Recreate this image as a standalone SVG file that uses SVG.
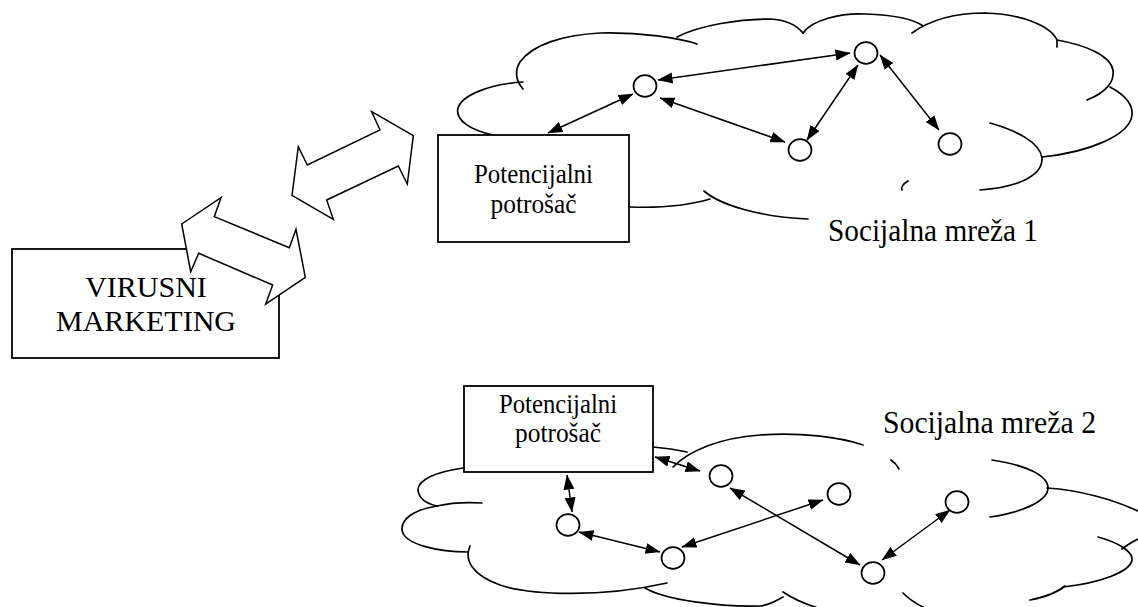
<svg xmlns="http://www.w3.org/2000/svg" width="1138" height="607" viewBox="0 0 1138 607">
  <style>
    .box { fill: #fff; stroke: #000; stroke-width: 1.8; }
    .cloud { fill: none; stroke: #000; stroke-width: 1.7; stroke-linecap: round; }
    .node { fill: #fff; stroke: #000; stroke-width: 1.7; }
    .link { fill: none; stroke: #000; stroke-width: 1.5; marker-start: url(#head); marker-end: url(#head); }
    .block { fill: #fff; stroke: #000; stroke-width: 1.5; stroke-linejoin: miter; }
    .t { font-family: "Liberation Serif", "Times New Roman", "DejaVu Serif", serif; fill: #000; text-anchor: middle; }
  </style>
  <defs>
    <marker id="head" markerUnits="userSpaceOnUse" markerWidth="16" markerHeight="12" refX="14.5" refY="5.5" orient="auto-start-reverse">
      <path d="M0,0 L15,5.5 L0,11 z" fill="#000"/>
    </marker>
  </defs>

  <rect width="1138" height="607" fill="#fff"/>

  <!-- cloud 1 outline (upper social network) -->
  <g id="cloud1">
    <path class="cloud" d="M493,135 C470,130 455,120 458,108 C462,95 490,84 523,82"/>
    <path class="cloud" d="M523,89 C515,80 515,70 520,62 C532,45 562,35 600,33 C640,32 680,38 697,44"/>
    <path class="cloud" d="M677,37 C700,25 740,19 770,19 C790,20 798,27 803,33"/>
    <path class="cloud" d="M803,33 C812,20 840,13 865,14 C895,15 915,20 923,26"/>
    <path class="cloud" d="M912,33 C930,20 955,13 985,13 C1020,14 1050,25 1057,40 L1057,47"/>
    <path class="cloud" d="M1057,40 C1085,45 1110,55 1113,70 C1115,82 1105,93 1087,100"/>
    <path class="cloud" d="M1110,87 C1125,95 1133,105 1132,115 C1130,135 1090,152 1042,157"/>
    <path class="cloud" d="M990,123 C1015,130 1040,142 1042,158 C1043,175 1020,187 980,190"/>
    <path class="cloud" d="M908,181 C903,184 901,187 902,190"/>
    <path class="cloud" d="M630,207 C660,208 690,205 710,199"/>
    <path class="cloud" d="M704,191 C720,205 760,217 808,219"/>
  </g>

  <!-- cloud 2 outline (lower social network) -->
  <g id="cloud2">
    <path class="cloud" d="M463,468 C435,472 418,480 418,490 C419,500 428,504 437,506"/>
    <path class="cloud" d="M437,506 C450,503 466,502 482,503"/>
    <path class="cloud" d="M437,506 C412,510 401,520 402,530 C404,545 440,552 468,552"/>
    <path class="cloud" d="M470,546 C464,560 472,575 500,585 C530,595 600,598 667,583"/>
    <path class="cloud" d="M645,588 C665,600 720,607 760,606 C770,605 778,600 783,597"/>
    <path class="cloud" d="M783,592 C795,600 810,606 825,610"/>
    <path class="cloud" d="M903,593 C910,600 918,605 927,609"/>
    <path class="cloud" d="M1030,600 C1045,597 1058,592 1065,586"/>
    <path class="cloud" d="M1098,537 C1120,543 1133,552 1132,560 C1130,572 1100,583 1063,587"/>
    <path class="cloud" d="M1122,549 C1127,545 1132,542 1140,538"/>
    <path class="cloud" d="M1047,488 C1080,490 1115,500 1140,512"/>
    <path class="cloud" d="M992,460 C1025,465 1048,475 1048,488 C1048,500 1025,512 990,517"/>
    <path class="cloud" d="M891,460 C894,462 897,465 899,469"/>
    <path class="cloud" d="M673,467 C690,450 720,438 760,435 C800,432 840,437 863,445"/>
    <path class="cloud" d="M653,447 C665,448 678,450 687,452"/>
  </g>

  <!-- VIRUSNI MARKETING -->
  <g id="virusni-marketing">
    <rect class="box" x="12" y="249" width="267" height="109"/>
    <text class="t" x="146" y="297" font-size="30">VIRUSNI</text>
    <text class="t" x="146" y="331" font-size="30">MARKETING</text>
  </g>

  <!-- broad two-way arrows between the marketing box and the consumer -->
  <g id="flow-lower">
    <polygon class="block" points="181.7,224 221,197.7 214.3,216.7 289.3,247.7 296,229.3 305.3,277.3 265.7,304 272.7,285 198.7,253.3 190.7,271.7"/>
  </g>
  <g id="flow-upper">
    <polygon class="block" points="371.7,111.7 413.3,135.7 407.3,184 398.3,166 326.7,200 333.3,219.3 292,195.3 298.3,146.7 307.3,165 380,130"/>
  </g>

  <!-- consumer in network 1 -->
  <g id="potrosac-1">
    <rect class="box" x="438" y="135" width="191" height="107"/>
    <text class="t" x="533.5" y="183" font-size="27" textLength="119" lengthAdjust="spacingAndGlyphs">Potencijalni</text>
    <text class="t" x="533.5" y="213" font-size="27" textLength="86" lengthAdjust="spacingAndGlyphs">potrošač</text>
  </g>

  <!-- consumer in network 2 -->
  <g id="potrosac-2">
    <rect class="box" x="464" y="386" width="189" height="86"/>
    <text class="t" x="558" y="413" font-size="27" textLength="118" lengthAdjust="spacingAndGlyphs">Potencijalni</text>
    <text class="t" x="558" y="442" font-size="27" textLength="86" lengthAdjust="spacingAndGlyphs">potrošač</text>
  </g>

  <!-- network labels -->
  <g id="label-mreza-1">
    <text class="t" x="933" y="241" font-size="31" textLength="210" lengthAdjust="spacingAndGlyphs">Socijalna mreža 1</text>
  </g>
  <g id="label-mreza-2">
    <text class="t" x="989.5" y="433" font-size="31" textLength="213" lengthAdjust="spacingAndGlyphs">Socijalna mreža 2</text>
  </g>

  <!-- members of network 1 -->
  <g id="n1-a"><ellipse class="node" cx="645" cy="86" rx="11.5" ry="10.8"/></g>
  <g id="n1-b"><ellipse class="node" cx="866" cy="53" rx="11.5" ry="10.8"/></g>
  <g id="n1-c"><ellipse class="node" cx="800" cy="150" rx="11.5" ry="10.8"/></g>
  <g id="n1-d"><ellipse class="node" cx="950" cy="144" rx="11.5" ry="10.8"/></g>

  <!-- members of network 2 -->
  <g id="n2-a"><ellipse class="node" cx="721" cy="476" rx="11.5" ry="10.8"/></g>
  <g id="n2-b"><ellipse class="node" cx="568" cy="525" rx="11.5" ry="10.8"/></g>
  <g id="n2-c"><ellipse class="node" cx="673" cy="558" rx="11.5" ry="10.8"/></g>
  <g id="n2-d"><ellipse class="node" cx="839" cy="494" rx="11.5" ry="10.8"/></g>
  <g id="n2-e"><ellipse class="node" cx="957" cy="502" rx="11.5" ry="10.8"/></g>
  <g id="n2-f"><ellipse class="node" cx="873" cy="573" rx="11.5" ry="10.8"/></g>

  <!-- two-way links -->
  <g id="connectors">
    <path class="link" d="M548,133 L633,94"/>
    <path class="link" d="M658,80 L850,53"/>
    <path class="link" d="M660,98 L785,142"/>
    <path class="link" d="M858,65 L807,140"/>
    <path class="link" d="M880,55 L939,130"/>

    <path class="link" d="M655,457 L700,471"/>
    <path class="link" d="M567,475 L572,512"/>
    <path class="link" d="M579,532 L660,552"/>
    <path class="link" d="M682,547 L823,500"/>
    <path class="link" d="M730,488 L860,565"/>
    <path class="link" d="M882,560 L950,510"/>
  </g>
</svg>
